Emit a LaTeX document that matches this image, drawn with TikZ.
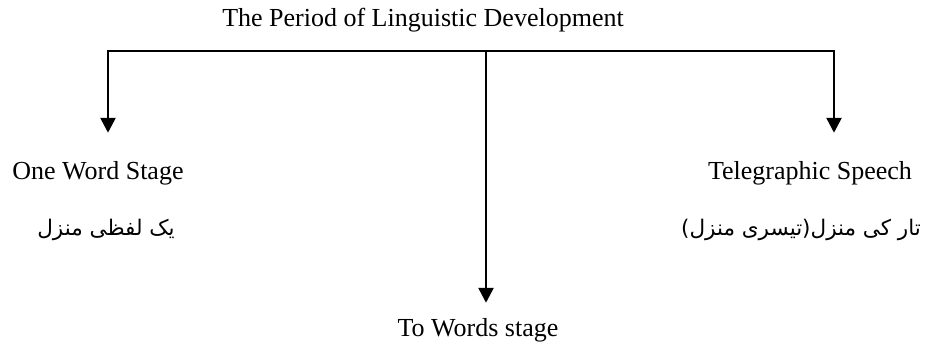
\documentclass[tikz,border=0pt]{standalone}
\usepackage{fontspec}
\setmainfont{Liberation Serif}
\newfontfamily\urdufont[Script=Arabic]{DejaVu Sans}
\TeXXeTstate=1
\usetikzlibrary{arrows.meta}
\tikzset{
  stage/.style={font=\fontsize{26}{30}\selectfont, inner sep=0pt, anchor=base},
  urdu/.style={font=\fontsize{21.5}{25}\urdufont, inner sep=0pt},
  branch/.style={line width=2.6pt, -{Triangle[width=15pt,length=15pt]}},
}
\begin{document}
\begin{tikzpicture}[x=1pt,y=-1pt]
				\useasboundingbox (0,0) rectangle (926,348);
				\node[stage] (title) at (423,27) {The Period of Linguistic Development};
				\coordinate (barL) at (108,51);
				\coordinate (barM) at (486,51);
				\coordinate (barR) at (834,51);
				\draw[line width=2.6pt, line cap=rect] (barL) -- (barR);
				\node[stage] (oneword) at (98,179) {One Word Stage};
				\node[urdu] (onewordur) at (106,230) {\beginR یک لفظی منزل\endR};
				\node[stage] (telegraph) at (810,179) {Telegraphic Speech};
				\node[urdu] (telegraphur) at (801,230) {\beginR تار کی منزل(تیسری منزل)\endR};
				\node[stage] (twowords) at (478,336) {To Words stage};
				\draw[branch, shorten >=28pt] (barL) -- (barL |- oneword.north);
				\draw[branch, shorten >=28pt] (barR) -- (barR |- telegraph.north);
				\draw[branch, shorten >=15pt] (barM) -- (barM |- twowords.north);
			\end{tikzpicture}
\end{document}
